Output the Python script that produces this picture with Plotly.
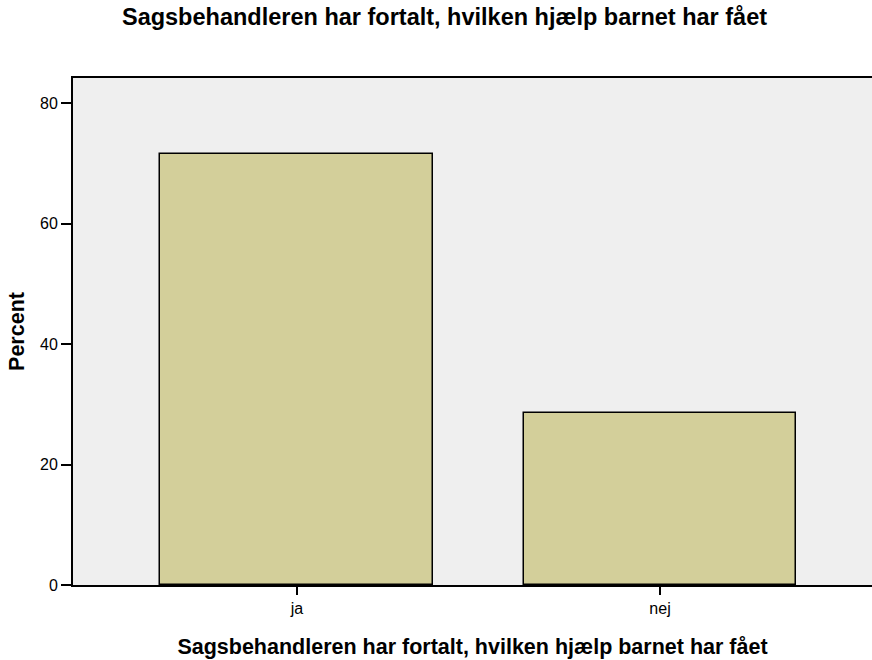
import plotly.graph_objects as go

categories = ["ja", "nej"]
percent = [71.5, 28.5]
y_ticks = [0, 20, 40, 60, 80]

title_text = "Sagsbehandleren har fortalt, hvilken hjælp barnet har fået"

fig = go.Figure(
    go.Bar(
        x=categories,
        y=percent,
        width=0.752,
        marker=dict(color="#d3cf9a", line=dict(color="#000000", width=1.5)),
    )
)

font_family = "Liberation Sans, Arial, Helvetica, sans-serif"

fig.update_layout(
    width=872,
    height=660,
    margin=dict(l=73, r=0, t=78, b=75, autoexpand=False),
    paper_bgcolor="white",
    plot_bgcolor="#efefef",
    font=dict(family=font_family, size=16, color="#000000"),
    title=dict(
        text="<b>" + title_text + "</b>",
        x=444.5 / 872,
        xanchor="center",
        y=1 - 17 / 660,
        yanchor="middle",
        yref="container",
        xref="container",
        font=dict(size=23.5, family=font_family),
    ),
    showlegend=False,
    bargap=0,
)

fig.update_xaxes(
    range=[-0.617, 1.584],
    showline=True,
    linecolor="#000000",
    linewidth=2,
    mirror=True,
    ticks="outside",
    ticklen=8,
    tickwidth=1.5,
    tickcolor="#000000",
    showgrid=False,
    zeroline=False,
    automargin=True,
    tickfont=dict(size=16),
    title=dict(text="<b>" + title_text + "</b>", font=dict(size=21.5), standoff=23),
)

fig.update_yaxes(
    range=[0, 84.2],
    tickvals=y_ticks,
    showline=True,
    linecolor="#000000",
    linewidth=2,
    ticks="outside",
    ticklen=10,
    tickwidth=2,
    tickcolor="#000000",
    showgrid=False,
    zeroline=False,
    automargin=True,
    tickfont=dict(size=16),
    title=dict(text="<b>Percent</b>", font=dict(size=21.5), standoff=9),
)

fig.write_html(
    "out.html",
    config={"displayModeBar": False},
    post_script="document.body.style.margin='0';document.body.style.overflow='hidden';",
)
